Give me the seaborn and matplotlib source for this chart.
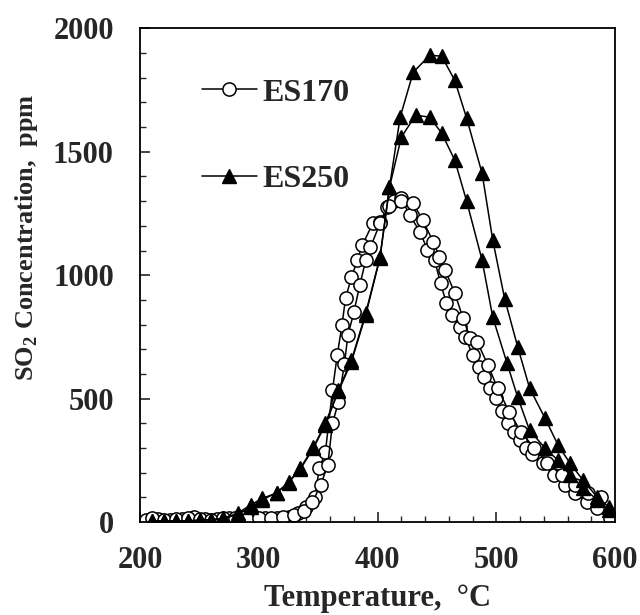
import numpy as np
import pandas as pd
import matplotlib
matplotlib.use("Agg")
import matplotlib.pyplot as plt
import seaborn as sns
from matplotlib.ticker import MultipleLocator
from matplotlib.lines import Line2D

# ES170 run a (rises earlier, descends lower)
es170_a_T = [205, 215, 225, 235, 245, 255, 265, 275, 285, 295, 305, 315, 325, 333, 340,
             347, 351, 356, 362, 366, 370, 373, 378, 383, 387, 396, 402, 408, 414, 420,
             427, 436, 442, 448, 453, 458, 463, 469, 474, 480, 485, 490, 495, 500, 505,
             510, 515, 520, 525, 530, 539, 549, 558, 566, 576, 585, 596]
es170_a_C = [10, 12, 10, 14, 20, 12, 12, 15, 22, 12, 15, 15, 20, 36, 60,
             100, 219, 283, 534, 676, 798, 907, 992, 1061, 1121, 1210, 1215, 1275, 1300, 1312,
             1243, 1174, 1101, 1061, 968, 886, 838, 790, 749, 676, 630, 587, 545, 502, 450,
             401, 365, 332, 300, 275, 239, 190, 150, 117, 81, 57, 16]
# ES170 run b (rises later, descends higher)
es170_b_T = [210, 220, 230, 240, 250, 260, 270, 280, 290, 300, 310, 320, 330, 338, 345,
             352, 358, 362, 367, 372, 375, 380, 385, 390, 394, 402, 410, 420, 430, 438,
             447, 452, 457, 465, 472, 478, 484, 493, 501, 511, 521, 532, 543, 555, 566,
             577, 588]
es170_b_C = [15, 10, 12, 15, 12, 10, 15, 18, 12, 15, 18, 20, 30, 45, 80,
             150, 231, 400, 486, 640, 757, 850, 960, 1060, 1113, 1210, 1280, 1300, 1291, 1223,
             1134, 1075, 1020, 927, 826, 745, 729, 636, 543, 445, 364, 300, 240, 190, 150,
             120, 100]
# ES250 run a (higher peak)
es250_a_T = [210, 220, 230, 240, 250, 260, 270, 282, 293, 303, 315, 325, 335, 346, 356,
             367, 378, 390, 402, 410, 419, 430, 444, 454, 465, 475, 488, 497, 507, 518,
             528, 541, 552, 562, 573, 585, 595]
es250_a_C = [5, 5, 5, 5, 8, 10, 15, 36, 69, 97, 117, 162, 219, 304, 400,
             534, 656, 846, 1073, 1356, 1640, 1822, 1891, 1887, 1789, 1636, 1413, 1142, 905, 710,
             543, 421, 312, 239, 170, 101, 60]
# ES250 run b (lower peak)
es250_b_T = [210, 220, 230, 240, 250, 260, 270, 282, 293, 303, 315, 325, 335, 346, 356,
             367, 378, 390, 402, 410, 420, 432, 444, 454, 465, 475, 488, 497, 509, 518,
             528, 541, 552, 562, 573, 585, 595]
es250_b_C = [5, 5, 5, 5, 8, 10, 15, 30, 60, 90, 120, 160, 215, 300, 395,
             530, 650, 840, 1070, 1356, 1559, 1648, 1640, 1575, 1466, 1300, 1061, 830, 644, 506,
             372, 300, 250, 190, 140, 90, 50]

x_ticks = [200, 300, 400, 500, 600]
y_ticks = [0, 500, 1000, 1500, 2000]

sns.set_theme(style="ticks")
plt.rcParams['font.family'] = ['Liberation Serif', 'DejaVu Serif']
plt.rcParams['mathtext.fontset'] = 'custom'
plt.rcParams['mathtext.rm'] = 'Liberation Serif:bold'
plt.rcParams['mathtext.bf'] = 'Liberation Serif:bold'

fig = plt.figure(figsize=(6.4, 6.15), dpi=100)
ax = fig.add_axes([0.219, 0.151, 0.742, 0.803])

circ = dict(marker='o', markersize=9.5, markerfacecolor='white', markeredgecolor='black',
            markeredgewidth=1.1, color='black', linewidth=1.1)
tri = dict(marker='^', markersize=10, markerfacecolor='black', markeredgecolor='black',
           markeredgewidth=1.0, color='black', linewidth=1.1)

for T, C in [(es170_a_T, es170_a_C), (es170_b_T, es170_b_C)]:
    df = pd.DataFrame({"T": T, "C": C})
    sns.lineplot(data=df, x="T", y="C", sort=False, estimator=None, ax=ax, **circ)
for T, C in [(es250_a_T, es250_a_C), (es250_b_T, es250_b_C)]:
    df = pd.DataFrame({"T": T, "C": C})
    sns.lineplot(data=df, x="T", y="C", sort=False, estimator=None, ax=ax, **tri)

ax.set_xlim(200, 600)
ax.set_ylim(0, 2000)
ax.set_xticks(x_ticks)
ax.set_yticks(y_ticks)
ax.xaxis.set_minor_locator(MultipleLocator(20))
ax.yaxis.set_minor_locator(MultipleLocator(100))
ax.tick_params(axis='both', which='major', direction='in', length=7, width=1.2,
               labelsize=22, top=False, right=False)
ax.tick_params(axis='x', which='major', pad=17)
ax.tick_params(axis='y', which='major', pad=19)
ax.tick_params(axis='both', which='minor', direction='in', length=4, width=1.0,
               top=False, right=False)
for lab in ax.get_xticklabels() + ax.get_yticklabels():
    lab.set_fontweight('bold')
for s in ax.spines.values():
    s.set_linewidth(1.3)
    s.set_color('black')

ax.set_xlabel("Temperature,  °C", fontsize=22, fontweight='bold', labelpad=7)
ax.set_ylabel(r"SO$_\mathbf{2}$ Concentration,  ppm", fontsize=19, fontweight='bold')
ax.yaxis.set_label_coords(-0.21, 0.577)

handles = [Line2D([], [], **circ), Line2D([], [], **tri)]
leg = ax.legend(handles, ["ES170", "ES250"], loc='upper left', bbox_to_anchor=(0.13, 0.899),
                frameon=False, labelspacing=1.8, handlelength=1.72, handletextpad=0.19,
                borderpad=0, borderaxespad=0,
                prop={'family': 'Liberation Serif', 'weight': 'bold', 'size': 23})

fig.savefig("out.png", dpi=100)
